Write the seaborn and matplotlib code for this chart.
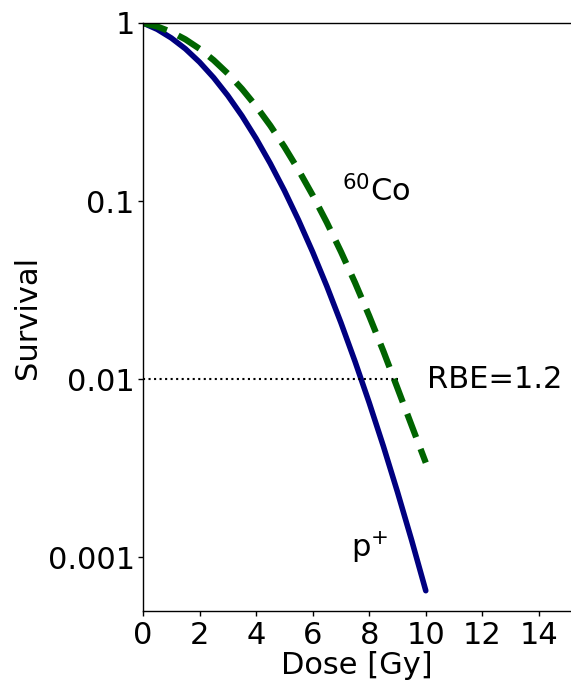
import matplotlib
matplotlib.use("Agg")
import matplotlib.pyplot as plt
import matplotlib.ticker as mticker
import seaborn as sns
import pandas as pd

# Data
dose = [0.0, 0.5, 1.0, 1.5, 2.0, 2.5, 3.0, 3.5, 4.0, 4.5, 5.0,
        5.5, 6.0, 6.5, 7.0, 7.5, 8.0, 8.5, 9.0, 9.5, 10.0]
survival_proton = [1.0, 0.922, 0.824, 0.716, 0.603, 0.493, 0.391, 0.301, 0.2246,
                   0.1628, 0.1146, 0.0782, 0.0518, 0.0333, 0.02076, 0.01256,
                   0.00738, 0.00421, 0.002326, 0.001248, 0.00065]
survival_cobalt = [1.0, 0.956, 0.891, 0.809, 0.7165, 0.618, 0.520, 0.4266, 0.341,
                   0.2657, 0.2018, 0.1494, 0.1079, 0.0759, 0.052, 0.0348,
                   0.02265, 0.01439, 0.00891, 0.0055, 0.0034]
yticks = [1, 0.1, 0.01, 0.001]
ytick_labels = ["1", "0.1", "0.01", "0.001"]
xticks = [0, 2, 4, 6, 8, 10, 12, 14]

df = pd.DataFrame({"dose": dose, "proton": survival_proton, "cobalt": survival_cobalt})

sns.set_style("ticks")
plt.rcParams["font.family"] = ["DejaVu Sans"]
for key in ["text.color", "axes.labelcolor", "xtick.color", "ytick.color", "axes.edgecolor"]:
    plt.rcParams[key] = "black"

fig = plt.figure(figsize=(5.71, 6.81), dpi=100)
ax = fig.add_axes([143 / 571, 1 - 611 / 681, (570 - 143) / 571, (611 - 23) / 681])

sns.lineplot(data=df, x="dose", y="proton", ax=ax, color="#000080", lw=4)
sns.lineplot(data=df, x="dose", y="cobalt", ax=ax, color="#006400", lw=4.5,
             linestyle=(0, (4.0, 2.0)))
ax.hlines(0.01, 0, 9.0, colors="black", linestyles=":", lw=1.5)

ax.set_yscale("log")
ax.set_ylim(5e-4, 1)
ax.set_xlim(0, 15.1)
ax.set_yticks(yticks)
ax.yaxis.set_major_formatter(mticker.FixedFormatter(ytick_labels))
ax.yaxis.set_minor_locator(mticker.NullLocator())
ax.set_xticks(xticks)

ax.tick_params(labelsize=22, length=3.5, width=1, colors="black")
ax.tick_params(axis="y", pad=2.5)
ax.set_xlabel("Dose [Gy]", fontsize=22, labelpad=1)
ax.set_ylabel("Survival", fontsize=22, labelpad=4)

for s in ["left", "bottom", "top"]:
    ax.spines[s].set_visible(True)
    ax.spines[s].set_color("black")
    ax.spines[s].set_linewidth(1)
ax.spines["right"].set_visible(False)

ax.text(7.05, 0.1, r"$^{60}$Co", fontsize=22, ha="left", va="baseline")
ax.text(10.05, 0.01, "RBE=1.2", fontsize=22, ha="left", va="center")
ax.text(7.35, 0.001, r"p$^{+}$", fontsize=22, ha="left", va="baseline")

fig.savefig("out.png", dpi=100)
